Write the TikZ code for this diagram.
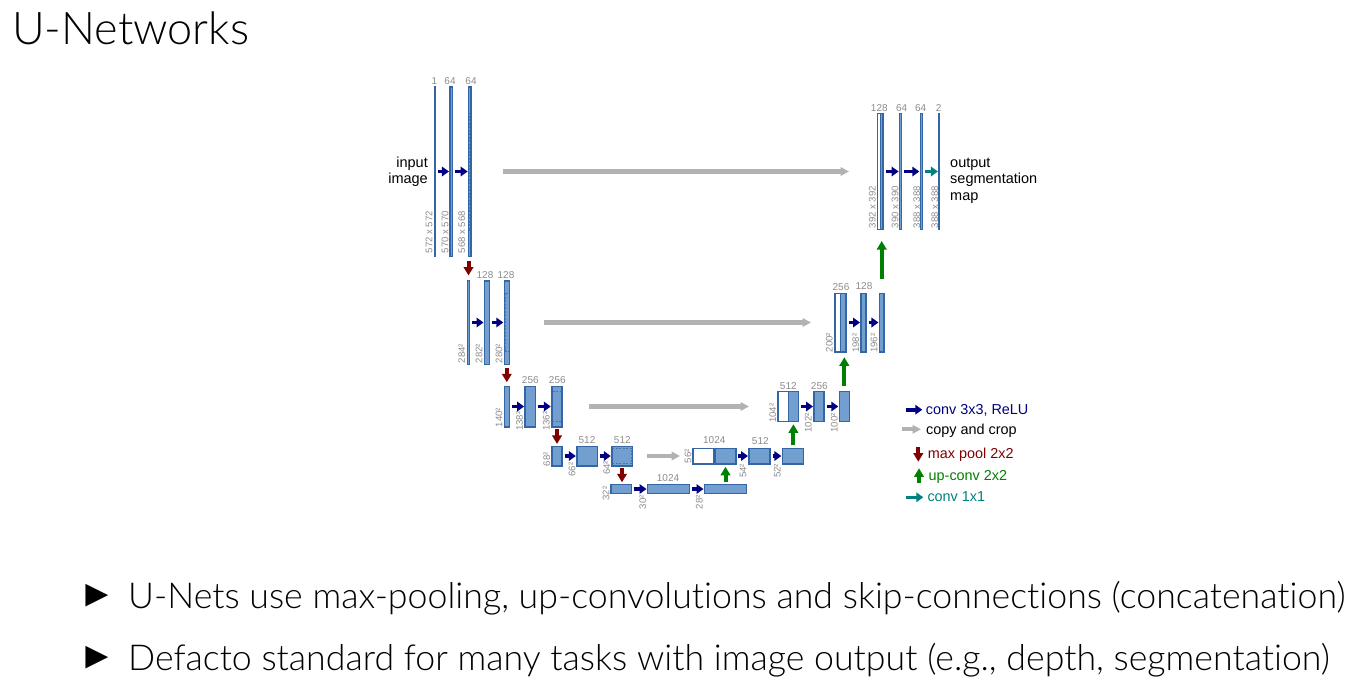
\documentclass[tikz,border=0pt]{standalone}
\usepackage{fontspec}
\setmainfont{Liberation Sans}
\newfontfamily\slidefont{Lato Light}[Ligatures=CommonOff]
\usetikzlibrary{arrows.meta}
\definecolor{blockblue}{HTML}{729FCF}
\definecolor{blockedge}{HTML}{3465A4}
\definecolor{dimgray}{HTML}{8C8C8C}

\begin{document}
\begin{tikzpicture}[x=1pt, y=-1pt,
  block/.style 2 args = {shape=rectangle, draw=blockedge, fill=blockblue, line width=1.5pt,
    inner sep=0pt, outer sep=0pt, minimum width=#1, minimum height=#2},
  emptyblock/.style 2 args = {block={#1}{#2}, fill=white},
  cropbox/.style 2 args = {shape=rectangle, draw=blockedge, draw opacity=0.7, line width=0.6pt, dash pattern=on 2pt off 1.5pt,
    inner sep=0pt, outer sep=0pt, minimum width=#1, minimum height=#2},
  toplbl/.style = {text=dimgray, inner sep=0pt, font=\fontsize{10}{10}\selectfont},
  sidelbl/.style = {text=dimgray, inner sep=0pt, rotate=90, anchor=west, font=\fontsize{9.6}{10}\selectfont},
  notelbl/.style = {inner sep=0pt, font=\fontsize{14.5}{16.5}\selectfont},
  keylbl/.style = {inner sep=0pt, anchor=base west, font=\fontsize{14.4}{16}\selectfont},
  conv/.style = {-{Triangle[length=7pt,width=9.5pt]}, line width=3.6pt, draw=black!50!blue, shorten <=2.5pt, shorten >=1pt},
  copycrop/.style = {-{Triangle[length=8.5pt,width=8.5pt]}, line width=4.2pt, draw=black!30},
  maxpool/.style = {-{Triangle[length=8.5pt,width=9.5pt]}, line width=4pt, draw=black!50!red},
  upconv/.style = {-{Triangle[length=8.5pt,width=9.5pt]}, line width=4pt, draw=black!50!green},
  convone/.style = {-{Triangle[length=7pt,width=9.5pt]}, line width=3.6pt, draw=teal, shorten <=2.5pt, shorten >=0.5pt},
  bulletmark/.style = {inner sep=0pt, font=\fontsize{38}{40}\selectfont},
  slideline/.style = {anchor=base west, inner sep=0pt, font=\slidefont\fontsize{35.7}{38}\selectfont}]
  \useasboundingbox (0,0) rectangle (1368,699);

  \node[anchor=base west, inner sep=0pt, font=\slidefont\fontsize{45}{47}\selectfont] (title) at (12,44.5) {U-Networks};

  % contracting side
  \node[block={0.6}{169.5}] (b1) at (435,171.5) {};
  \node[block={2.5}{169.5}] (b2) at (451.2,171.5) {};
  \node[block={2.5}{169.5}] (b3) at (469.9,171.5) {};
  \node[cropbox={1.5}{117}] (c3) at (469.9,171.5) {};
  \node[block={2.3}{84}] (b4) at (468.5,322.5) {};
  \node[block={5}{83.5}] (b5) at (487,322.5) {};
  \node[block={5}{83.5}] (b6) at (506.8,322.5) {};
  \node[cropbox={4}{58.5}] (c6) at (506.8,322.5) {};
  \node[block={5}{40.5}] (b7) at (506.8,406.5) {};
  \node[block={10.2}{40.5}] (b8) at (530.2,406.5) {};
  \node[block={10.2}{40.5}] (b9) at (556.9,406.5) {};
  \node[cropbox={9}{30}] (c9) at (556.9,406.5) {};
  \node[block={10}{19.5}] (b10) at (557,456) {};
  \node[block={20.7}{19.5}] (b11) at (587.2,456) {};
  \node[block={20.5}{19.5}] (b12) at (622,456) {};
  \node[cropbox={19.5}{15.5}] (c12) at (622,456) {};

  % bottom
  \node[block={20.5}{9}] (b13) at (621.3,489) {};
  \node[block={42}{9}] (b14) at (668.5,489) {};
  \node[block={42}{9}] (b15) at (725.5,489) {};

  % expanding side
  \node[emptyblock={21}{15.5}] (w16) at (703.3,456) {};
  \node[block={21}{15.5}] (b16) at (725.3,456) {};
  \node[block={21}{15.5}] (b17) at (759.5,456) {};
  \node[block={21}{15.5}] (b18) at (792.85,456) {};
  \node[emptyblock={10.3}{30}] (w19) at (783.15,406.5) {};
  \node[block={10.2}{30}] (b19) at (793.4,406.5) {};
  \node[block={10.2}{30}] (b20) at (819.1,406.5) {};
  \node[block={10}{30}] (b21) at (844.3,406.5) {};
  \node[emptyblock={5.3}{58.5}] (w22) at (837.65,322.5) {};
  \node[block={5.7}{58.5}] (b22) at (843.15,322.5) {};
  \node[block={5}{58.5}] (b23) at (863.5,322.5) {};
  \node[block={4.5}{58.5}] (b24) at (881.7,322.5) {};
  \node[emptyblock={2.8}{116}] (w25) at (879.1,171.5) {};
  \node[block={2.5}{116}] (b25) at (881.75,171.5) {};
  \node[block={2}{116}] (b26) at (900.6,171.5) {};
  \node[block={2}{116}] (b27) at (921.3,171.5) {};
  \node[block={0.6}{116}] (b28) at (938.7,171.5) {};

  % channel counts
  \node[toplbl] (t1) at (434.5,81) {1};
  \node[toplbl] (t2) at (450,81) {64};
  \node[toplbl] (t3) at (471,81) {64};
  \node[toplbl] (t5) at (485,274.7) {128};
  \node[toplbl] (t6) at (506,274.7) {128};
  \node[toplbl] (t8) at (530.3,380.5) {256};
  \node[toplbl] (t9) at (557.3,380.5) {256};
  \node[toplbl] (t11) at (587,439.7) {512};
  \node[toplbl] (t12) at (622.3,439.7) {512};
  \node[toplbl] (t14) at (668,478.5) {1024};
  \node[toplbl] (t16) at (714.3,440) {1024};
  \node[toplbl] (t17) at (760.3,441) {512};
  \node[toplbl] (t19) at (788.3,385.7) {512};
  \node[toplbl] (t20) at (819.3,385.7) {256};
  \node[toplbl] (t22) at (841,287) {256};
  \node[toplbl] (t23) at (864,286.5) {128};
  \node[toplbl] (t25) at (879.3,107.7) {128};
  \node[toplbl] (t26) at (901.7,107.7) {64};
  \node[toplbl] (t27) at (920.7,108.5) {64};
  \node[toplbl] (t28) at (938.7,108) {2};

  % sizes
  \node[sidelbl] (s1) at (429,253.5) {572 x 572};
  \node[sidelbl] (s2) at (445,253.5) {570 x 570};
  \node[sidelbl] (s3) at (461.7,253.5) {568 x 568};
  \node[sidelbl] (s4) at (461.7,363.3) {284²};
  \node[sidelbl] (s5) at (479,363.3) {282²};
  \node[sidelbl] (s6) at (499,363.3) {280²};
  \node[sidelbl] (s7) at (499,427.3) {140²};
  \node[sidelbl] (s8) at (519.5,431) {138²};
  \node[sidelbl] (s9) at (546.2,431) {136²};
  \node[sidelbl] (s10) at (546.7,466.3) {68²};
  \node[sidelbl] (s11) at (572,476.7) {66²};
  \node[sidelbl] (s12) at (606.8,475) {64²};
  \node[sidelbl] (s13) at (606,500.7) {32²};
  \node[sidelbl] (s14) at (642.7,509.3) {30²};
  \node[sidelbl] (s15) at (699.3,509.3) {28²};
  \node[sidelbl] (s16) at (688,463.3) {56²};
  \node[sidelbl] (s17) at (743,478) {54²};
  \node[sidelbl] (s18) at (777.3,478) {52²};
  \node[sidelbl] (s19) at (772.7,423) {104²};
  \node[sidelbl] (s20) at (808.2,432.7) {102²};
  \node[sidelbl] (s21) at (834.2,432.7) {100²};
  \node[sidelbl] (s22) at (829.3,352.3) {200²};
  \node[sidelbl] (s23) at (855.7,353) {198²};
  \node[sidelbl] (s24) at (874,353) {196²};
  \node[sidelbl] (s25) at (872.3,228.5) {392 x 392};
  \node[sidelbl] (s26) at (895,228.5) {390 x 390};
  \node[sidelbl] (s27) at (916.7,228.5) {388 x 388};
  \node[sidelbl] (s28) at (934.7,228.5) {388 x 388};

  \node[notelbl, anchor=east, align=right] (inlbl) at (428,171.5) {input\\image};
  \node[notelbl, anchor=west, align=left] (outlbl) at (950,180.5) {output\\segmentation\\map};

  % convolutions
  \draw[conv] (b1) -- (b2);
  \draw[conv] (b2) -- (b3);
  \draw[conv] (b4) -- (b5);
  \draw[conv] (b5) -- (b6);
  \draw[conv] (b7) -- (b8);
  \draw[conv] (b8) -- (b9);
  \draw[conv] (b10) -- (b11);
  \draw[conv] (b11) -- (b12);
  \draw[conv] (b13) -- (b14);
  \draw[conv] (b14) -- (b15);
  \draw[conv] (b16) -- (b17);
  \draw[conv] (b17) -- (b18);
  \draw[conv] (b19) -- (b20);
  \draw[conv] (b20) -- (b21);
  \draw[conv] (b22) -- (b23);
  \draw[conv] (b23) -- (b24);
  \draw[conv] (b25) -- (b26);
  \draw[conv] (b26) -- (b27);
  \draw[convone] (b27) -- (b28);

  % skips
  \draw[copycrop, shorten <=32pt, shorten >=28.7pt] (b3) -- (w25);
  \draw[copycrop, shorten <=34.7pt, shorten >=24pt] (b6) -- (w22);
  \draw[copycrop, shorten <=27pt, shorten >=29pt] (b9) -- (w19);
  \draw[copycrop, shorten <=14.7pt, shorten >=12.8pt] (b12) -- (w16);

  % down
  \draw[maxpool, shorten <=4.3pt, shorten >=5pt] (b4.north |- b3.south) -- (b4.north);
  \draw[maxpool, shorten <=3.5pt, shorten >=4pt] (b6.south) -- (b7.north);
  \draw[maxpool, shorten <=2.3pt, shorten >=2.3pt] (b10.north |- b9.south) -- (b10.north);
  \draw[maxpool, shorten <=2pt, shorten >=2.2pt] (b12.south) -- (b12.south |- b13.north);

  % up
  \draw[upconv, shorten <=2.8pt, shorten >=3pt] (b15.north) -- (b15.north |- b16.south);
  \draw[upconv, shorten <=3.2pt, shorten >=2.8pt] (b19.south |- b18.north) -- (b19.south);
  \draw[upconv, shorten <=6pt, shorten >=5.5pt] (b21.north) -- (b21.north |- b22.south);
  \draw[upconv, shorten <=14pt, shorten >=11.5pt] (b24.north) -- (b24.north |- b25.south);

  % key
  \coordinate (k1a) at (906,409.7);
  \coordinate (k1b) at (922.3,409.7);
  \coordinate (k2a) at (901.7,429.3);
  \coordinate (k2b) at (921,429.3);
  \coordinate (k3a) at (918.3,446.7);
  \coordinate (k3b) at (918.3,461.7);
  \coordinate (k4a) at (919,482.7);
  \coordinate (k4b) at (919,468.3);
  \coordinate (k5a) at (906,497.3);
  \coordinate (k5b) at (923.3,497.3);
  \draw[conv, shorten <=0pt, shorten >=0pt] (k1a) -- (k1b);
  \draw[copycrop] (k2a) -- (k2b);
  \draw[maxpool] (k3a) -- (k3b);
  \draw[upconv] (k4a) -- (k4b);
  \draw[convone, shorten <=0pt, shorten >=0pt] (k5a) -- (k5b);
  \node[keylbl, text=black!50!blue] (k1) at (925.7,414.3) {conv 3x3, ReLU};
  \node[keylbl] (k2) at (926,434.3) {copy and crop};
  \node[keylbl, text=black!50!red] (k3) at (927.7,458.3) {max pool 2x2};
  \node[keylbl, text=black!50!green] (k4) at (928.5,480) {up-conv 2x2};
  \node[keylbl, text=teal] (k5) at (927.3,501.7) {conv 1x1};

  % bullets
  \node[bulletmark] (m1) at (97,596) {►};
  \node[slideline] (l1) at (128,608.5) {U-Nets use max-pooling, up-convolutions and skip-connections (concatenation)};
  \node[bulletmark] (m2) at (97,658) {►};
  \node[slideline] (l2) at (128,670.5) {Defacto standard for many tasks with image output (e.g., depth, segmentation)};
\end{tikzpicture}
\end{document}
